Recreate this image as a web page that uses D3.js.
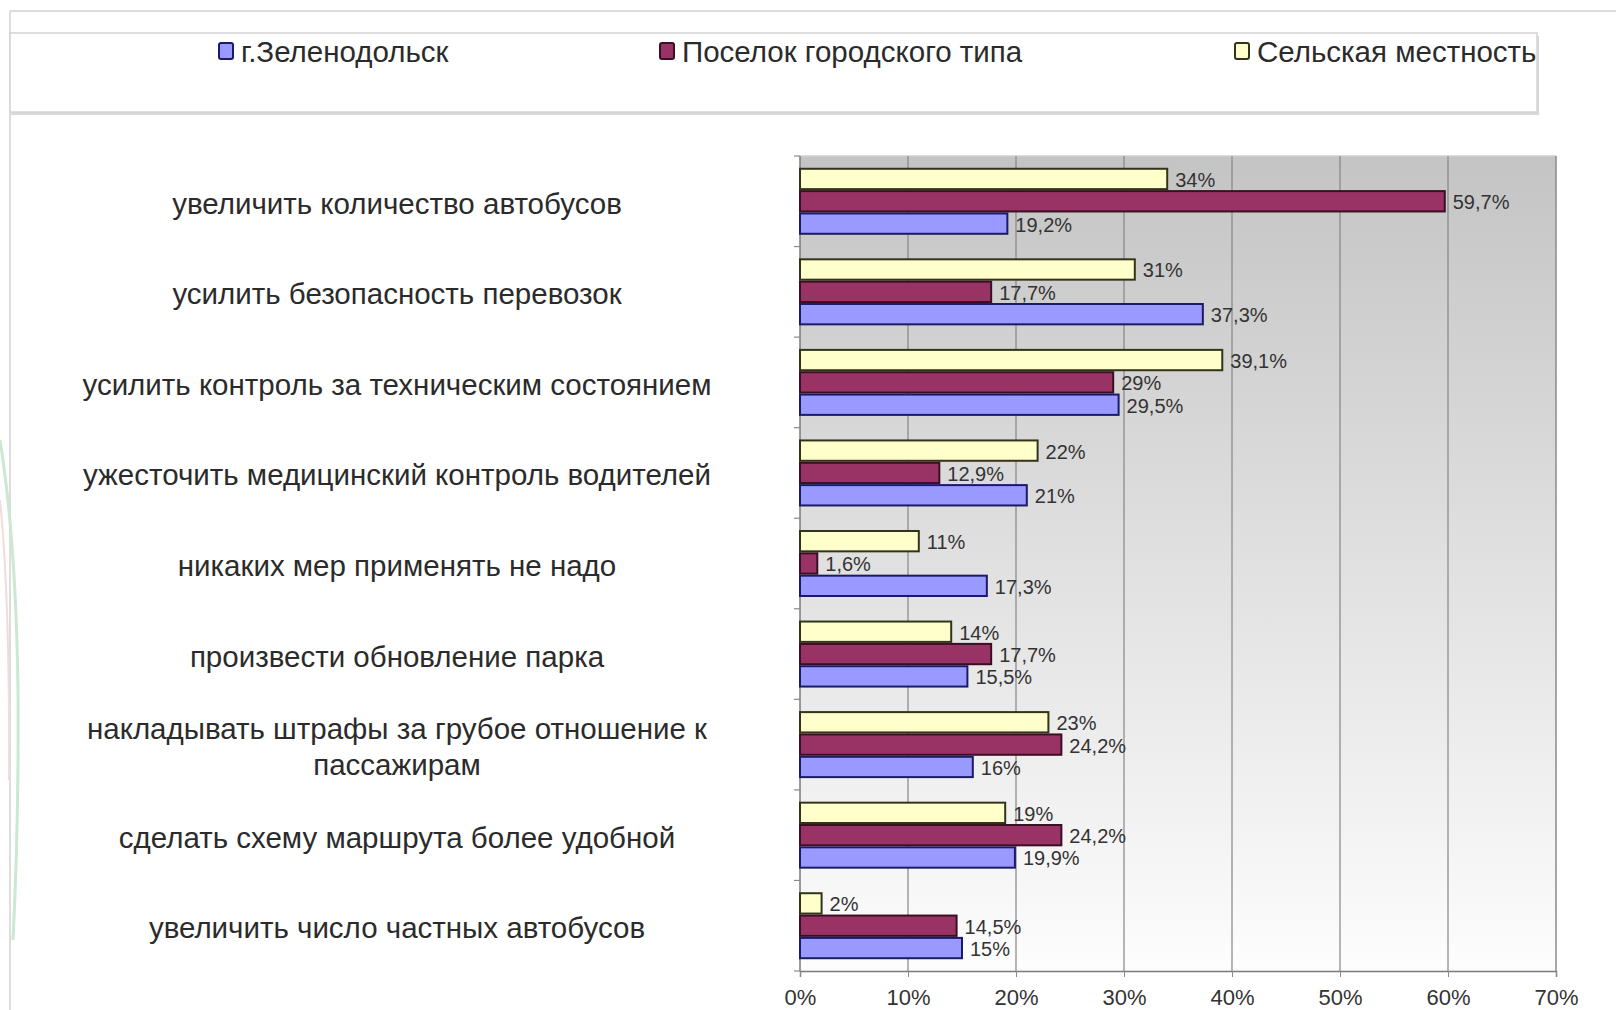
<!DOCTYPE html>
<html><head><meta charset="utf-8">
<script src="https://cdn.jsdelivr.net/npm/d3@7"></script>
<style>body{margin:0;background:#fff;overflow:hidden} svg{display:block}</style>
</head><body>
<svg id="c" width="1616" height="1010"></svg>
<script>
// ---- data ----
const categories = [
  "увеличить количество автобусов",
  "усилить безопасность перевозок",
  "усилить контроль за техническим состоянием",
  "ужесточить медицинский контроль водителей",
  "никаких мер применять не надо",
  "произвести обновление парка",
  "накладывать штрафы за грубое отношение к пассажирам",
  "сделать схему маршрута более удобной",
  "увеличить число частных автобусов"
];
const seriesNames = ["г.Зеленодольск", "Поселок городского типа", "Сельская местность"];
const zelenodolsk = [19.2, 37.3, 29.5, 21, 17.3, 15.5, 16, 19.9, 15];
const poselok     = [59.7, 17.7, 29, 12.9, 1.6, 17.7, 24.2, 24.2, 14.5];
const selskaya    = [34, 31, 39.1, 22, 11, 14, 23, 19, 2];
const xTicks = [0, 10, 20, 30, 40, 50, 60, 70];

// ---- styles ----
const fills   = ["#9999ff", "#993366", "#ffffcc"];
const strokes = ["#1a1a66", "#3a0f22", "#33331a"];
const font = "'Liberation Sans', Arial, sans-serif";

const series = [zelenodolsk, poselok, selskaya];
const svg = d3.select("#c");

const plot = {left: 800, right: 1556, top: 156, bottom: 971};

const x = d3.scaleLinear().domain([0, 70]).range([plot.left, plot.right]);
const y = d3.scaleBand().domain(d3.range(categories.length))
  .range([plot.top, plot.bottom]).paddingInner(0.26).paddingOuter(0.13);
// order inside a group, top to bottom: Сельская, Поселок, Зеленодольск
const yi = d3.scaleBand().domain([2, 1, 0]).range([0, y.bandwidth()]);

// frame
svg.append("line").attr("x1", 10).attr("x2", 1616).attr("y1", 11).attr("y2", 11)
  .attr("stroke", "#dddddd").attr("stroke-width", 2);
svg.append("line").attr("x1", 10).attr("x2", 10).attr("y1", 11).attr("y2", 1010)
  .attr("stroke", "#dddddd").attr("stroke-width", 2);
// faint decoration at far left
svg.append("path").attr("d", "M0,440 Q16,540 18,690 Q19,820 13,940")
  .attr("fill", "none").attr("stroke", "#cbe8d3").attr("stroke-width", 3);
svg.append("path").attr("d", "M0,500 Q10,600 9,780")
  .attr("fill", "none").attr("stroke", "#f1dcdc").attr("stroke-width", 2);

// legend box
svg.append("rect").attr("x", 11).attr("y", 36).attr("width", 1528).attr("height", 79)
  .attr("fill", "#d8d8d8");
svg.append("rect").attr("x", 10).attr("y", 33).attr("width", 1527).attr("height", 79)
  .attr("fill", "#ffffff").attr("stroke", "#d4d4d4").attr("stroke-width", 1.5);

const legendX = [219, 660, 1235];
const lg = svg.append("g").selectAll("g").data(seriesNames).join("g")
  .attr("transform", (d, i) => `translate(${legendX[i]},0)`);
lg.append("rect").attr("x", 0).attr("y", 43).attr("width", 14).attr("height", 16).attr("rx", 2)
  .attr("fill", (d, i) => fills[i]).attr("stroke", (d, i) => strokes[i]).attr("stroke-width", 2);
lg.append("text").attr("x", 22).attr("y", 62).text(d => d)
  .attr("font-family", font).attr("font-size", 29.5).attr("fill", "#2b2b2b");

// plot background gradient
const defs = svg.append("defs");
const grad = defs.append("linearGradient").attr("id", "bg").attr("x1", 0).attr("x2", 0).attr("y1", 0).attr("y2", 1);
grad.append("stop").attr("offset", "0%").attr("stop-color", "#c4c4c4");
grad.append("stop").attr("offset", "100%").attr("stop-color", "#fdfdfd");
svg.append("rect").attr("x", plot.left).attr("y", plot.top)
  .attr("width", plot.right - plot.left).attr("height", plot.bottom - plot.top)
  .attr("fill", "url(#bg)");
// top & right border
svg.append("line").attr("x1", plot.left).attr("x2", plot.right).attr("y1", plot.top).attr("y2", plot.top)
  .attr("stroke", "#d0d0d0").attr("stroke-width", 1.5);
svg.append("line").attr("x1", plot.right).attr("x2", plot.right).attr("y1", plot.top).attr("y2", plot.bottom)
  .attr("stroke", "#8a8a8a").attr("stroke-width", 1.5);

// gridlines
svg.append("g").selectAll("line").data(xTicks.slice(1, -1)).join("line")
  .attr("x1", d => x(d)).attr("x2", d => x(d)).attr("y1", plot.top).attr("y2", plot.bottom)
  .attr("stroke", "#858585").attr("stroke-width", 1.2);

// x axis
const xAxis = d3.axisBottom(x).tickValues(xTicks).tickFormat(d => d + "%").tickSize(6).tickPadding(12);
const gx = svg.append("g").attr("transform", `translate(0,${plot.bottom})`).call(xAxis);
gx.select(".domain").attr("stroke", "#7a7a7a").attr("stroke-width", 1.5);
gx.selectAll(".tick line").attr("stroke", "#8a8a8a");
gx.selectAll("text").attr("font-family", font).attr("font-size", 22).attr("fill", "#333");

// y axis line and ticks at band boundaries
svg.append("line").attr("x1", plot.left).attr("x2", plot.left).attr("y1", plot.top).attr("y2", plot.bottom)
  .attr("stroke", "#7a7a7a").attr("stroke-width", 1.5);
const bounds = d3.range(categories.length + 1).map(i => plot.top + i * (plot.bottom - plot.top) / categories.length);
svg.append("g").selectAll("line").data(bounds).join("line")
  .attr("x1", plot.left - 6).attr("x2", plot.left).attr("y1", d => d).attr("y2", d => d)
  .attr("stroke", "#8a8a8a").attr("stroke-width", 1.2);

// bars
const groups = svg.append("g").selectAll("g").data(categories).join("g")
  .attr("transform", (d, i) => `translate(0,${y(i)})`);
[2, 1, 0].forEach(s => {
  groups.append("rect")
    .attr("x", plot.left)
    .attr("y", yi(s) + 1)
    .attr("width", (d, i) => x(series[s][i]) - plot.left)
    .attr("height", yi.bandwidth() - 2)
    .attr("fill", fills[s]).attr("stroke", strokes[s]).attr("stroke-width", 2);
  groups.append("text")
    .attr("x", (d, i) => x(series[s][i]) + 8)
    .attr("y", yi(s) + yi.bandwidth() / 2 + 1)
    .attr("dominant-baseline", "central")
    .attr("font-family", font).attr("font-size", 20).attr("fill", "#333")
    .text((d, i) => String(series[s][i]).replace(".", ",") + "%");
});

// category labels
const labelCx = 397;
const lbl = svg.append("g").selectAll("text").data(categories).join("text")
  .attr("text-anchor", "middle")
  .attr("font-family", font).attr("font-size", 29.5).attr("fill", "#2b2b2b");
lbl.each(function(d, i) {
  const t = d3.select(this);
  const cy = y(i) + y.bandwidth() / 2 + 2;
  t.text(d);
  const w = this.getComputedTextLength();
  if (w > 700) {
    const words = d.split(" ");
    const lines = [words.slice(0, -1).join(" "), words[words.length - 1]];
    t.text(null);
    lines.forEach((ln, k) => {
      t.append("tspan").attr("x", labelCx).attr("y", cy + (k - 0.5) * 36)
        .attr("dominant-baseline", "central").text(ln);
    });
  } else {
    t.attr("x", labelCx).attr("y", cy).attr("dominant-baseline", "central");
  }
});
</script>
</body></html>
